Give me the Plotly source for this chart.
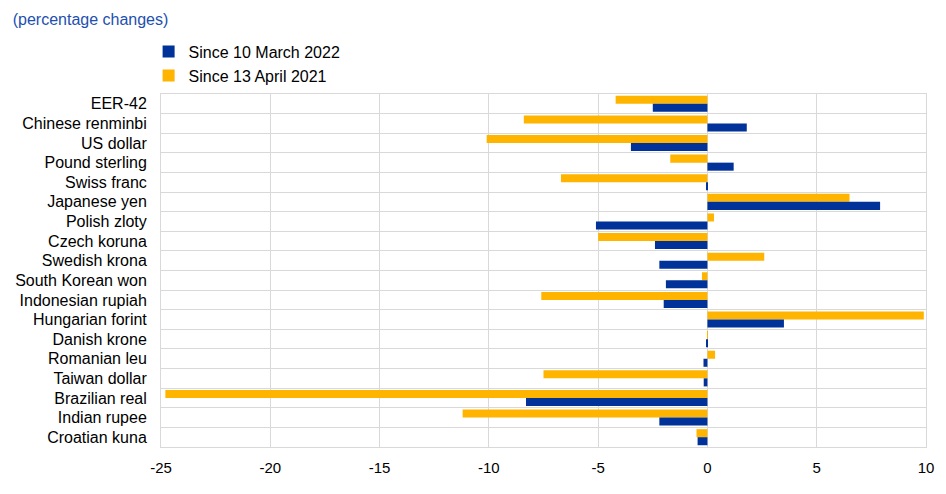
import plotly.graph_objects as go

categories = ["EER-42", "Chinese renminbi", "US dollar", "Pound sterling", "Swiss franc",
              "Japanese yen", "Polish zloty", "Czech koruna", "Swedish krona",
              "South Korean won", "Indonesian rupiah", "Hungarian forint", "Danish krone",
              "Romanian leu", "Taiwan dollar", "Brazilian real", "Indian rupee", "Croatian kuna"]
since_10_march_2022 = [-2.5, 1.8, -3.5, 1.2, -0.06, 7.9, -5.1, -2.4, -2.2,
                       -1.9, -2.0, 3.5, -0.03, -0.18, -0.17, -8.3, -2.2, -0.45]
since_13_april_2021 = [-4.2, -8.4, -10.1, -1.7, -6.7, 6.5, 0.3, -5.0, 2.6,
                       -0.25, -7.6, 9.9, 0.02, 0.35, -7.5, -24.8, -11.2, -0.5]
x_tickvals = [-25, -20, -15, -10, -5, 0, 5, 10]
x_ticktext = ["-25", "-20", "-15", "-10", "-5", "0", "5", "10"]

BLUE = "#003299"
YELLOW = "#FFB400"
GRID = "#d9d9d9"
FONT = "Liberation Sans, Arial, sans-serif"

# page body has an 8px default margin; figure sized to fit the 946x494 window
W, H = 938, 486

fig = go.Figure()
fig.add_trace(go.Bar(y=categories, x=since_13_april_2021, orientation="h",
                     name="Since 13 April 2021", marker=dict(color=YELLOW, line=dict(width=0))))
fig.add_trace(go.Bar(y=categories, x=since_10_march_2022, orientation="h",
                     name="Since 10 March 2022", marker=dict(color=BLUE, line=dict(width=0))))

fig.update_layout(
    width=W, height=H,
    margin=dict(l=153, r=20, t=86, b=47, autoexpand=False),
    paper_bgcolor="white", plot_bgcolor="white",
    font=dict(family=FONT, size=16, color="#000000"),
    barmode="group", bargap=0.18, bargroupgap=0,
    showlegend=True,
    legend=dict(traceorder="reversed", x=-0.0162, xanchor="left", y=1.168, yanchor="top",
                font=dict(size=16), bgcolor="rgba(0,0,0,0)", tracegroupgap=0),
    title=dict(text="(percentage changes)", x=4.7 / W, xanchor="left", xref="container",
               y=1 - 11 / H, yanchor="middle", yref="container",
               font=dict(size=16, color="#1d4fb0", family=FONT)),
)
fig.update_xaxes(range=[-25, 10], tickvals=x_tickvals, ticktext=x_ticktext,
                 showgrid=True, gridcolor=GRID, gridwidth=1, zeroline=False,
                 showline=True, linecolor=GRID, mirror=True, automargin=False,
                 ticks="outside", ticklen=7, tickcolor="rgba(0,0,0,0)",
                 tickfont=dict(size=15), fixedrange=True)
fig.update_yaxes(autorange="reversed", type="category", tickson="boundaries",
                 showgrid=True, gridcolor=GRID, gridwidth=1,
                 showline=True, linecolor=GRID, mirror=True, automargin=False,
                 ticks="", ticklabelstandoff=10,
                 tickfont=dict(size=16), fixedrange=True)

fig.write_html("out.html")
